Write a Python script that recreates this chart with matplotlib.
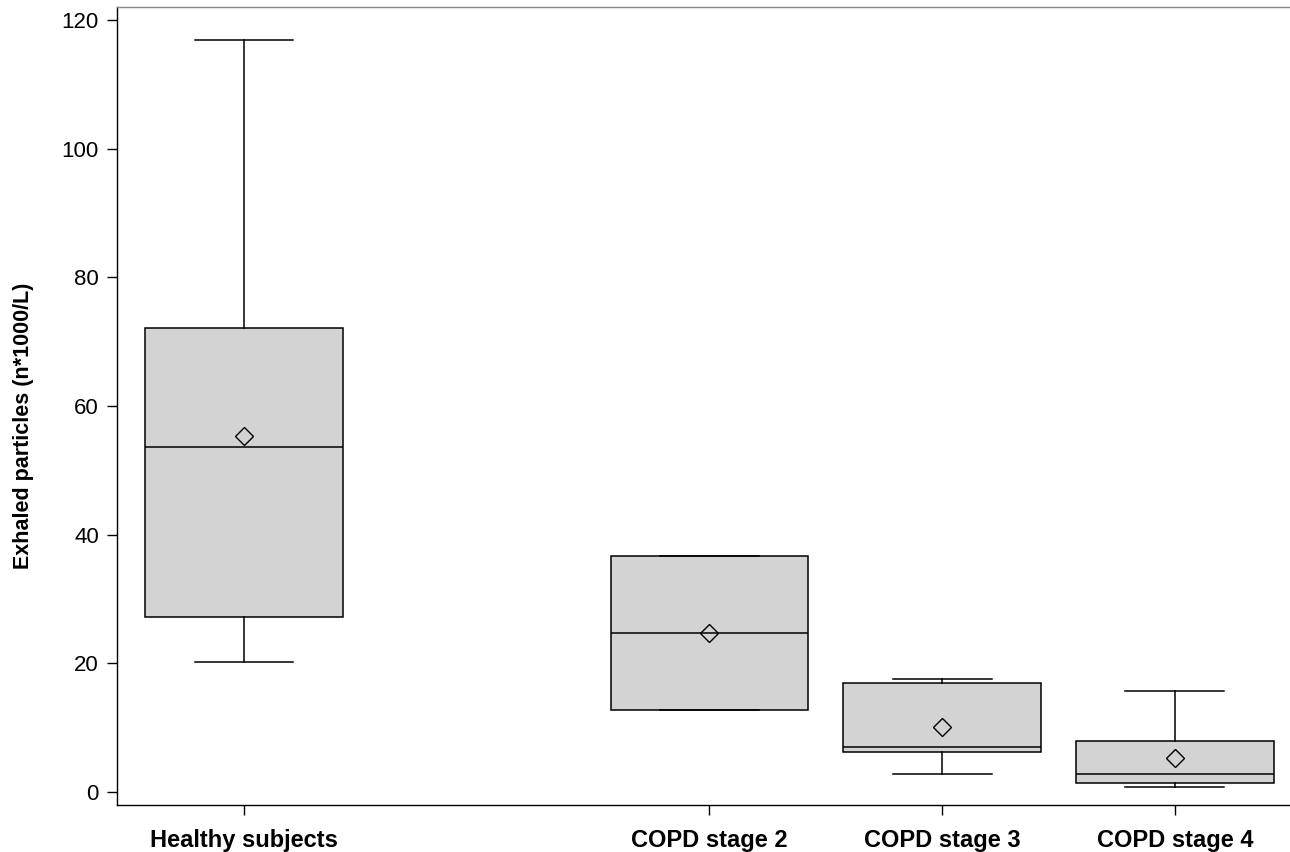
import matplotlib
matplotlib.use("Agg")
import matplotlib.pyplot as plt

plt.rcParams['font.family'] = ['Liberation Sans', 'DejaVu Sans']

# Group labels and their positions on the x axis
groups = ["Healthy subjects", "COPD stage 2", "COPD stage 3", "COPD stage 4"]
positions = [1, 3, 4, 5]

# Summary statistics (n*1000/L)
whisker_low = [20.2, 12.7, 2.8, 0.8]
q1 = [27.2, 12.7, 6.2, 1.4]
median = [53.6, 24.7, 7.0, 2.8]
q3 = [72.1, 36.7, 16.9, 7.9]
whisker_high = [116.8, 36.7, 17.6, 15.7]
mean = [55.3, 24.7, 10.1, 5.3]

y_ticks = [0, 20, 40, 60, 80, 100, 120]

stats = []
for i, g in enumerate(groups):
    stats.append(dict(label=g, whislo=whisker_low[i], q1=q1[i], med=median[i],
                      q3=q3[i], whishi=whisker_high[i], mean=mean[i], fliers=[]))

fig = plt.figure(figsize=(12.9, 8.52), dpi=100)
ax = fig.add_axes([117 / 1290, 1 - 805 / 852, 1 - 117 / 1290, (805 - 7) / 852])

lw = 1.1
ax.bxp(stats, positions=positions, widths=0.85, capwidths=0.425,
       showmeans=True, patch_artist=True, showfliers=False,
       boxprops=dict(facecolor="#d3d3d3", edgecolor="black", linewidth=lw),
       medianprops=dict(color="black", linewidth=lw),
       whiskerprops=dict(color="black", linewidth=lw),
       capprops=dict(color="black", linewidth=lw),
       meanprops=dict(marker="D", markerfacecolor="none", markeredgecolor="black",
                      markersize=9, markeredgewidth=1.0))

ax.set_xlim(0.454, 5.495)
ax.set_ylim(-2.02, 122.0)
ax.set_yticks(y_ticks)
ax.set_yticklabels([str(v) for v in y_ticks], fontsize=16)
ax.set_xticks(positions)
ax.set_xticklabels(groups, fontsize=17, fontweight="bold")
ax.set_ylabel("Exhaled particles (n*1000/L)", fontsize=15.5, fontweight="bold")
# centre the axis title on the figure's vertical middle
ax.yaxis.set_label_coords(-0.071, 0.475)

ax.tick_params(axis="both", direction="out", length=7, width=1.0, color="black")
ax.tick_params(axis="x", pad=10)
ax.tick_params(axis="y", pad=6)

ax.spines["right"].set_visible(False)
ax.spines["top"].set_color("#888888")
ax.spines["top"].set_linewidth(1.0)
ax.spines["left"].set_linewidth(1.0)
ax.spines["bottom"].set_linewidth(1.0)

fig.savefig("out.png", dpi=100, facecolor="white")
